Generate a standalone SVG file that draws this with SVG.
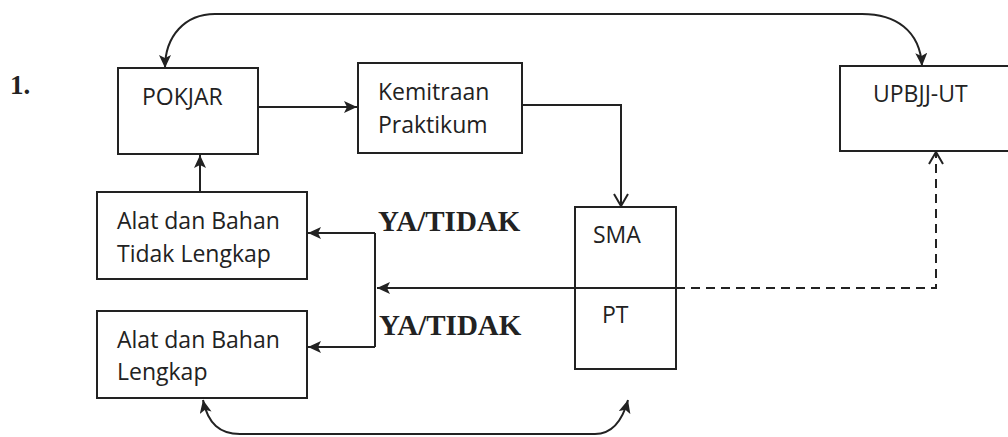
<svg xmlns="http://www.w3.org/2000/svg" width="1008" height="437" viewBox="0 0 1008 437">
<style>
  .box { fill: #fff; stroke: #222; stroke-width: 2; }
  .lbl { font-family: "Open Sans", "Noto Sans", sans-serif; font-size: 23px; fill: #222; }
  .yt { font-family: "Liberation Serif", serif; font-weight: bold; font-size: 29px; fill: #222; }
  .num { font-family: "Liberation Serif", serif; font-weight: bold; font-size: 27px; fill: #222; }
  .ln { fill: none; stroke: #222; stroke-width: 2; }
  .dash { fill: none; stroke: #222; stroke-width: 2; stroke-dasharray: 9 6; }
</style>
<defs>
  <marker id="fa" markerUnits="userSpaceOnUse" markerWidth="14" markerHeight="12" refX="13" refY="6" orient="auto-start-reverse">
    <path d="M0,0 L13,6 L0,12 L3,6 Z" fill="#222"/>
  </marker>
  <marker id="oa" markerUnits="userSpaceOnUse" markerWidth="16" markerHeight="16" refX="13" refY="8" orient="auto">
    <path d="M1,1 L13,8 L1,15" fill="none" stroke="#222" stroke-width="2"/>
  </marker>
</defs>
<rect width="1008" height="437" fill="#fff"/>
<text class="num" x="10" y="94">1.</text>

<g id="pokjar">
  <rect class="box" x="118" y="68" width="140" height="86"/>
  <text class="lbl" x="142" y="105">POKJAR</text>
</g>
<g id="kemitraan">
  <rect class="box" x="358" y="63" width="164" height="90"/>
  <text class="lbl" x="378" y="100">Kemitraan</text>
  <text class="lbl" x="378" y="133">Praktikum</text>
</g>
<g id="upbjj">
  <rect class="box" x="840" y="66" width="175" height="85"/>
  <text class="lbl" x="873" y="102">UPBJJ-UT</text>
</g>
<g id="tidak-lengkap">
  <rect class="box" x="97" y="192" width="210" height="87"/>
  <text class="lbl" x="117" y="229">Alat dan Bahan</text>
  <text class="lbl" x="117" y="262">Tidak Lengkap</text>
</g>
<g id="lengkap">
  <rect class="box" x="97" y="311" width="210" height="87"/>
  <text class="lbl" x="117" y="348">Alat dan Bahan</text>
  <text class="lbl" x="117" y="380">Lengkap</text>
</g>
<g id="sma-pt">
  <rect class="box" x="575" y="207" width="101" height="162"/>
  <line class="ln" x1="575" y1="288" x2="676" y2="288"/>
  <text class="lbl" x="593" y="243">SMA</text>
  <text class="lbl" x="602" y="323">PT</text>
</g>

<g id="connectors">
  <path class="ln" d="M165,68 C165,36 185,14 215,14 L862,14 C895,14 920,30 922,66" marker-start="url(#fa)" marker-end="url(#fa)"/>
  <path class="ln" d="M258,107 L357,107" marker-end="url(#fa)"/>
  <path class="ln" d="M522,105 L621,105 L621,206" marker-end="url(#oa)"/>
  <path class="ln" d="M200,192 L200,155" marker-end="url(#fa)"/>
  <path class="ln" d="M575,288 L377,288" marker-end="url(#fa)"/>
  <path class="ln" d="M375,233 L375,347"/>
  <path class="ln" d="M375,233 L308,233" marker-end="url(#fa)"/>
  <path class="ln" d="M375,347 L308,347" marker-end="url(#fa)"/>
  <path class="dash" d="M676,288 L936,288 L936,152" marker-end="url(#oa)"/>
  <path class="ln" d="M203,400 C208,424 220,434 240,434 L595,434 C612,434 622,422 628,400" marker-start="url(#fa)" marker-end="url(#fa)"/>
  <text class="yt" x="378" y="231">YA/TIDAK</text>
  <text class="yt" x="379" y="335">YA/TIDAK</text>
</g>
</svg>
